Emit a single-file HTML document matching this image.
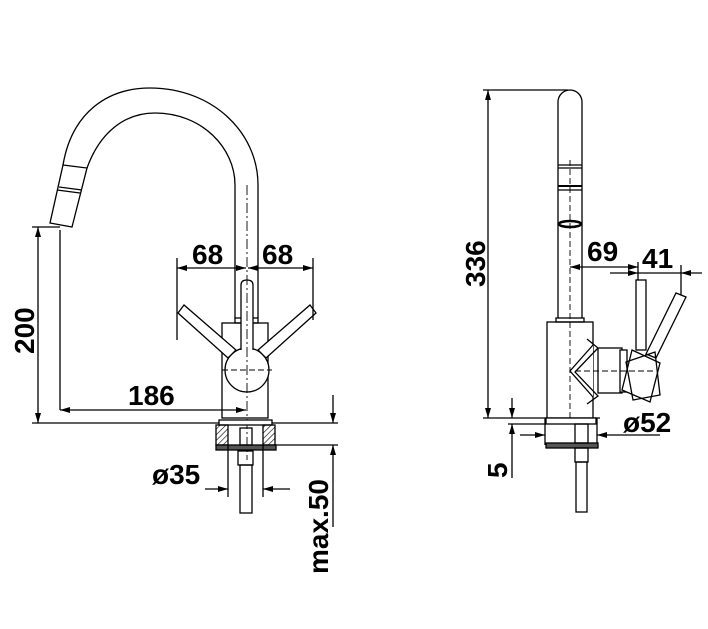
<!DOCTYPE html>
<html><head><style>
html,body{margin:0;padding:0;background:#fff;}
svg{display:block}
text{font-family:"Liberation Sans",sans-serif;font-weight:bold;font-size:28px;fill:#000}
</style></head><body>
<svg width="708" height="629" viewBox="0 0 708 629" xmlns="http://www.w3.org/2000/svg">
<defs>
<marker id="a" viewBox="0 0 10 6" refX="10" refY="3" markerWidth="14" markerHeight="6" markerUnits="userSpaceOnUse" orient="auto-start-reverse"><path d="M0,0 L10,3 L0,6z" fill="#000"/></marker>
<pattern id="h" width="4" height="4" patternUnits="userSpaceOnUse" patternTransform="rotate(45)"><line x1="0" y1="0" x2="0" y2="4" stroke="#000" stroke-width="1.2"/></pattern>
</defs>
<g fill="none" stroke="#000" stroke-width="1.3">
<path d="M63,165 C72,112 108,88 150,88 C212,88 258,132 258,185 V318"/>
<path d="M87,168 C100,132 125,113 155,113 C202,113 235,148 235,185 V318"/>
<path d="M63,165 L87,168 L72,227 L50,223 Z"/>
<line x1="57" y1="190" x2="80" y2="193"/>
<line x1="59" y1="187" x2="82" y2="190"/>
<rect x="235" y="318" width="23" height="5"/>
<rect x="222" y="323" width="46" height="95"/>
<circle cx="247" cy="370" r="22" fill="#fff"/>
<path d="M241,350 V285 Q241,280 247,280 Q253,280 253,285 V350" fill="#fff"/>
<path d="M184,305 L178,313 L228,358 L236,350 Z" fill="#fff"/>
<path d="M310,305 L316,313 L266,358 L258,350 Z" fill="#fff"/>
<line x1="247" y1="185" x2="247" y2="460" stroke-dasharray="10,3,2,3" stroke-width="0.9"/>
<line x1="222" y1="370" x2="272" y2="370" stroke-dasharray="6,3" stroke-width="0.9"/>
<line x1="177" y1="258" x2="177" y2="340"/>
<line x1="313" y1="258" x2="313" y2="320"/>
<line x1="177" y1="268" x2="246" y2="268" marker-start="url(#a)" marker-end="url(#a)"/>
<line x1="248" y1="268" x2="313" y2="268" marker-start="url(#a)" marker-end="url(#a)"/>
<line x1="32" y1="227" x2="60" y2="227"/>
<line x1="38" y1="227" x2="38" y2="423" marker-start="url(#a)" marker-end="url(#a)"/>
<line x1="60" y1="230" x2="60" y2="410"/>
<line x1="60" y1="410" x2="246" y2="410" marker-start="url(#a)" marker-end="url(#a)"/>
<line x1="32" y1="423" x2="338" y2="423"/>
<line x1="275" y1="445" x2="338" y2="445"/>
<rect x="219" y="420" width="53" height="5" fill="#fff"/>
<rect x="216" y="425" width="12" height="20" fill="url(#h)"/>
<rect x="263" y="425" width="12" height="20" fill="url(#h)"/>
<rect x="216" y="445" width="60" height="5" fill="#555"/>
<rect x="240" y="428" width="12" height="17"/>
<rect x="238" y="451" width="15" height="14"/>
<rect x="240" y="465" width="12" height="48"/>
<line x1="228" y1="445" x2="228" y2="497"/>
<line x1="263" y1="445" x2="263" y2="497"/>
<line x1="205" y1="489" x2="228" y2="489" marker-end="url(#a)"/>
<line x1="290" y1="489" x2="263" y2="489" marker-end="url(#a)"/>
<line x1="333" y1="395" x2="333" y2="423" marker-end="url(#a)"/>
<line x1="333" y1="527" x2="333" y2="445" marker-end="url(#a)"/>
<path d="M558,318 V102 A12,12 0 0 1 582,102 V318"/>
<line x1="558" y1="165" x2="582" y2="165"/>
<line x1="558" y1="168" x2="582" y2="168"/>
<line x1="558" y1="186" x2="582" y2="186" stroke-width="2"/>
<line x1="558" y1="190" x2="582" y2="190"/>
<ellipse cx="570" cy="224" rx="11" ry="3" stroke-width="2.5"/>
<rect x="556" y="318" width="28" height="4"/>
<rect x="547" y="322" width="46" height="98"/>
<rect x="636" y="280" width="10" height="70" fill="#fff"/>
<path d="M676,293 L686,297 L656,358 L646,354 Z" fill="#fff"/>
<path d="M593,345 L570,371 L593,397" fill="#fff"/>
<path d="M587,339 L598,348 L575,372 L598,396 L587,404" fill="none"/>
<rect x="598" y="348" width="24" height="45" fill="#fff"/>
<rect x="620" y="350" width="7" height="42" fill="#fff"/>
<path d="M632,350 L660,363 L650,402 L622,390 Z" fill="#fff"/>
<path d="M626,362 L655,352 L660,395 L633,400 Z" fill="none"/>
<line x1="570" y1="160" x2="570" y2="420" stroke-dasharray="6,3" stroke-width="0.9"/>
<line x1="575" y1="371" x2="655" y2="371" stroke-dasharray="6,3" stroke-width="0.9"/>
<line x1="483" y1="90" x2="568" y2="90"/>
<line x1="488" y1="90" x2="488" y2="418" marker-start="url(#a)" marker-end="url(#a)"/>
<line x1="483" y1="418" x2="600" y2="418"/>
<line x1="570" y1="267" x2="638" y2="267" marker-start="url(#a)" marker-end="url(#a)"/>
<line x1="638" y1="262" x2="638" y2="280"/>
<line x1="610" y1="273" x2="638" y2="273" marker-end="url(#a)"/>
<line x1="681" y1="265" x2="681" y2="295"/>
<line x1="702" y1="273" x2="681" y2="273" marker-end="url(#a)"/>
<line x1="638" y1="273" x2="681" y2="273"/>
<line x1="512" y1="398" x2="512" y2="418" marker-end="url(#a)"/>
<line x1="512" y1="478" x2="512" y2="424" marker-end="url(#a)"/>
<line x1="508" y1="424" x2="546" y2="424"/>
<line x1="545" y1="418" x2="545" y2="445"/>
<line x1="597" y1="418" x2="597" y2="445"/>
<line x1="520" y1="435" x2="545" y2="435" marker-end="url(#a)"/>
<line x1="660" y1="435" x2="597" y2="435" marker-end="url(#a)"/>
<rect x="546" y="418" width="50" height="6" fill="#fff"/>
<rect x="546" y="443" width="52" height="5" fill="#555"/>
<rect x="575" y="424" width="13" height="19"/>
<rect x="575" y="448" width="13" height="14"/>
<rect x="576" y="462" width="11" height="50"/>
</g>
<g>
<text x="192" y="264">68</text>
<text x="262" y="264">68</text>
<text x="128" y="405">186</text>
<text transform="translate(34,354) rotate(-90)">200</text>
<text x="152" y="484">ø35</text>
<text transform="translate(328,574) rotate(-90)">max.50</text>
<text transform="translate(485,287) rotate(-90)">336</text>
<text x="587" y="261">69</text>
<text x="642" y="268">41</text>
<text x="623" y="432">ø52</text>
<text transform="translate(507,478) rotate(-90)">5</text>
</g>
</svg>
</body></html>
